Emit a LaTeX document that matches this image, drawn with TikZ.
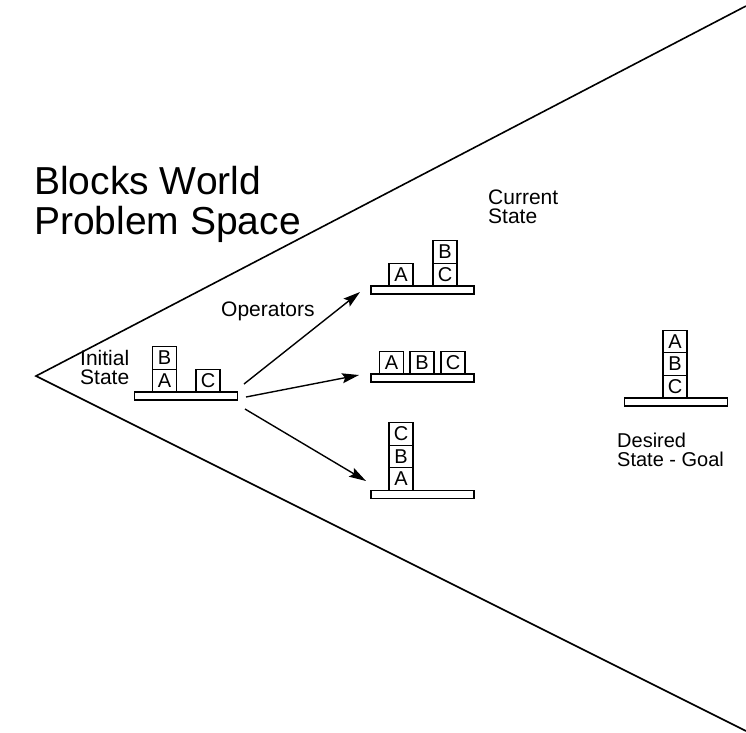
\documentclass[tikz,border=0pt]{standalone}
\usepackage{fontspec}
\setmainfont{Liberation Sans}
\usetikzlibrary{arrows.meta}

\tikzset{
  block/.style={draw, line width=1.3pt, minimum width=24pt, minimum height=22.5pt,
    inner sep=0pt, font=\fontsize{20}{20}\selectfont},
  tabletop/.style={draw, line width=1.3pt, minimum width=103pt, minimum height=8pt, inner sep=0pt},
  smalltext/.style={align=left, inner sep=0pt, anchor=north west, font=\fontsize{21}{19}\selectfont},
  move/.style={line width=1.4pt, -{Stealth[length=17pt, width=10pt, inset=3pt]}}
}

\begin{document}
\begin{tikzpicture}[x=1pt, y=-1pt]
    \useasboundingbox (0,0) rectangle (746,732);

    % The problem space wedge
    \coordinate (apex) at (36, 376);
    \coordinate (upper) at (746, 6);
    \coordinate (lower) at (746, 731);
    \draw[line width=1.6pt] (upper) -- (apex) -- (lower);

    % Title
    \node[smalltext, font=\fontsize{39}{40}\selectfont] (title) at (34, 166) {Blocks World\\Problem Space};

    % Initial state
    \node[tabletop] (initTable) at (186, 396) {};
    \node[block] (initA) at (164.5, 380.5) {A};
    \node[block] (initB) at (164.5, 358) {B};
    \node[block] (initC) at (208, 380.5) {C};
    \node[smalltext] (initLabel) at (80, 350) {Initial\\State};

    % Current states reached by the operators
    \node[tabletop] (curTableA) at (422.5, 290) {};
    \node[block] (curA1) at (401, 274.5) {A};
    \node[block] (curC1) at (445, 274.5) {C};
    \node[block] (curB1) at (445, 252) {B};

    \node[tabletop] (curTableB) at (422.5, 378) {};
    \node[block] (curA2) at (391.5, 362.5) {A};
    \node[block] (curB2) at (422, 362.5) {B};
    \node[block] (curC2) at (453, 362.5) {C};

    \node[tabletop] (curTableC) at (422.5, 494.5) {};
    \node[block] (curA3) at (401, 479) {A};
    \node[block] (curB3) at (401, 456.5) {B};
    \node[block] (curC3) at (401, 434) {C};

    \node[smalltext] (curLabel) at (488, 190) {Current\\State};

    % Goal
    \node[tabletop] (goalTable) at (676, 402) {};
    \node[block] (goalC) at (675, 386.5) {C};
    \node[block] (goalB) at (675, 364) {B};
    \node[block] (goalA) at (675, 341.5) {A};
    \node[smalltext, font=\fontsize{20}{19}\selectfont] (goalLabel) at (617, 433) {Desired\\State - Goal};

    % Operators
    \node[smalltext] (opLabel) at (221, 302) {Operators};
    \coordinate (opFromA) at (244, 384);
    \coordinate (opFromB) at (246, 397);
    \coordinate (opFromC) at (245, 409);
    \coordinate (opToA) at (360, 292);
    \coordinate (opToB) at (359, 375);
    \coordinate (opToC) at (366, 481);
    \draw[move] (opFromA) -- (opToA);
    \draw[move] (opFromB) -- (opToB);
    \draw[move] (opFromC) -- (opToC);
\end{tikzpicture}
\end{document}
